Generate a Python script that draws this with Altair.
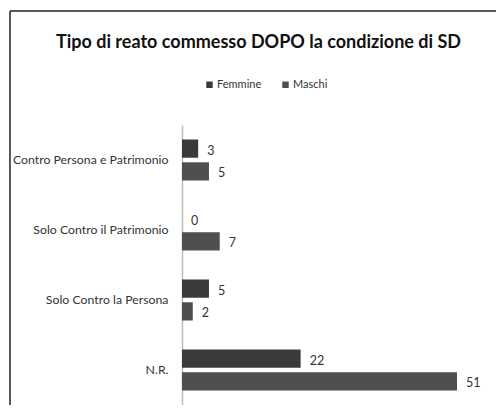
import altair as alt
import pandas as pd

categories = ["Contro Persona e Patrimonio", "Solo Contro il Patrimonio", "Solo Contro la Persona", "N.R."]
femmine = [3, 0, 5, 22]
maschi = [5, 7, 2, 51]
series = ["Femmine", "Maschi"]
colors = ["#3a3a3a", "#4f4f4f"]

rows = []
for c, f, m in zip(categories, femmine, maschi):
    rows.append({"cat": c, "sesso": "Femmine", "v": f})
    rows.append({"cat": c, "sesso": "Maschi", "v": m})
df = pd.DataFrame(rows)

FONT = "Lato"

y = alt.Y("cat:N", sort=categories, title=None,
          scale=alt.Scale(paddingInner=0.414, paddingOuter=0.207),
          axis=alt.Axis(ticks=False, domainColor="#bdbdbd", domainWidth=1.5,
                        labelPadding=14, labelFontSize=12.3, labelColor="#333333",
                        labelFont=FONT, labelLimit=300))
x = alt.X("v:Q", title=None, scale=alt.Scale(domain=[0, 51], nice=False), axis=None)
yoff = alt.YOffset("sesso:N", sort=series, scale=alt.Scale(paddingInner=0.2, paddingOuter=0))

bars = alt.Chart(df).mark_bar().encode(
    x=x, y=y, yOffset=yoff,
    color=alt.Color("sesso:N", sort=series, scale=alt.Scale(domain=series, range=colors),
                    legend=alt.Legend(title=None, orient="none", direction="horizontal",
                                      legendX=22, legendY=-46, symbolType="square",
                                      symbolSize=42, labelFontSize=11, labelFont=FONT,
                                      labelColor="#333333", columnPadding=18,
                                      symbolOffset=0, labelOffset=2)),
)

labels = alt.Chart(df).mark_text(align="left", baseline="middle", dx=9, dy=2,
                                 fontSize=12.5, font=FONT, color="#333333").encode(
    x=x, y=y, yOffset=yoff, text="v:Q")

frame_v = alt.Chart(pd.DataFrame({"k": [0]})).mark_rule(color="#222222", strokeWidth=1.5).encode(
    x=alt.value(-172), y=alt.value(-114), y2=alt.value(300))
frame_h = alt.Chart(pd.DataFrame({"k": [0]})).mark_rule(color="#222222", strokeWidth=1.5).encode(
    x=alt.value(-172), x2=alt.value(314), y=alt.value(-114))

chart = alt.layer(frame_v, frame_h, bars, labels).properties(
    width=275, height=280,
    background="white",
    autosize=alt.AutoSizeParams(type="none"),
    padding={"left": 174, "top": 117, "right": 39, "bottom": 0},
    title=alt.TitleParams("Tipo di reato commesso DOPO la condizione di SD",
                          font=FONT, fontSize=18, fontWeight="bold", color="#111111",
                          anchor="middle", frame="group", dx=-61, offset=-42),
).configure_view(stroke="transparent", strokeWidth=0)

chart.save("out.html", embed_options={"renderer": "svg", "actions": False})
